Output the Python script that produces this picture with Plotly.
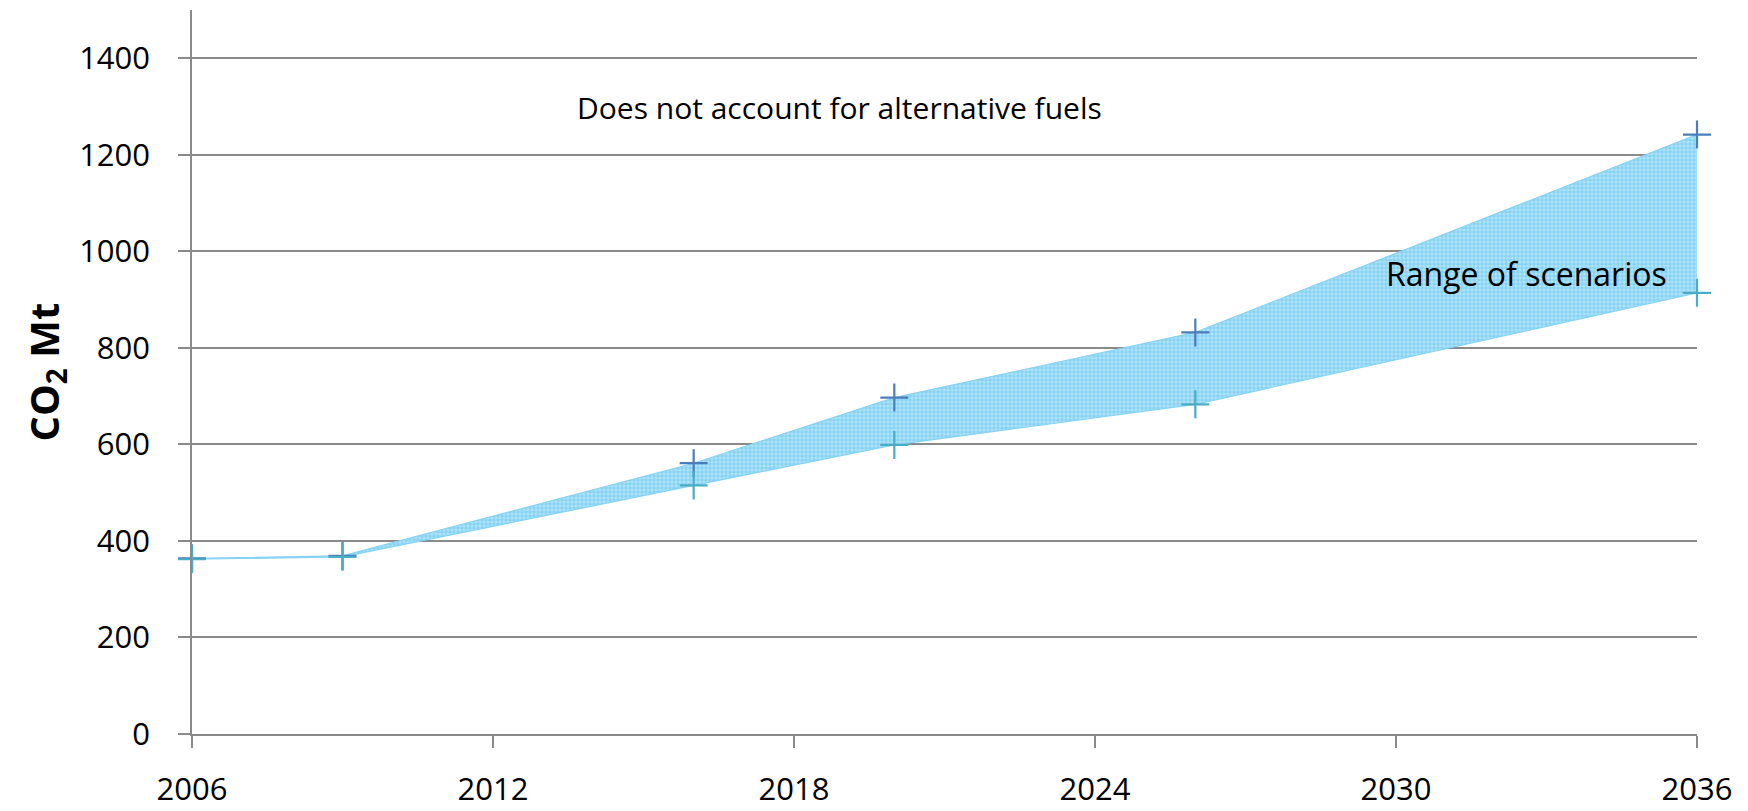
import plotly.graph_objects as go

years = [2006, 2009, 2016, 2020, 2026, 2036]
high = [364, 369, 561, 697, 832, 1242]
low = [362, 367, 515, 599, 683, 914]

x_ticks = [2006, 2012, 2018, 2024, 2030, 2036]
y_ticks = [0, 200, 400, 600, 800, 1000, 1200, 1400]

title_text = "Does not account for alternative fuels"
range_text = "Range of scenarios"
y_title = "CO<sub>2</sub> Mt"

GRID = "#8a8a8a"
FONT = "Open Sans"
FILL_EDGE = "#86d2f3"

fig = go.Figure()

fig.add_trace(go.Scatter(x=years, y=low, mode="lines", line=dict(width=1.2, color=FILL_EDGE),
                         showlegend=False, hoverinfo="skip"))
fig.add_trace(go.Scatter(x=years, y=high, mode="lines", line=dict(width=1.2, color=FILL_EDGE),
                         fill="tonexty", fillcolor="rgba(120,205,242,1)",
                         fillpattern=dict(shape="+", fgcolor="#2fb3ea", bgcolor="#b0e2f7",
                                          size=4, solidity=0.35),
                         showlegend=False, hoverinfo="skip"))
fig.add_trace(go.Scatter(x=years, y=high, mode="markers",
                         marker=dict(symbol="cross-thin", size=20,
                                     line=dict(width=2.2, color="#4a7ebb")),
                         cliponaxis=False, showlegend=False))
fig.add_trace(go.Scatter(x=years, y=low, mode="markers",
                         marker=dict(symbol="cross-thin", size=20,
                                     line=dict(width=2.2, color="#4bacc6")),
                         cliponaxis=False, showlegend=False))

fig.add_annotation(x=2018.9, y=1299, xref="x", yref="y", text=title_text,
                   showarrow=False, font=dict(family=FONT, size=30, color="black"))
fig.add_annotation(x=2032.6, y=955, xref="x", yref="y", text=range_text,
                   showarrow=False, font=dict(family=FONT, size=32, color="black"))
fig.add_annotation(x=-0.098, y=0.5, xref="paper", yref="paper", text=y_title,
                   textangle=-90, showarrow=False, xanchor="center", yanchor="middle",
                   font=dict(family=FONT, size=40, color="black", weight="bold"))

# page body has an 8px margin, so the figure is drawn 8px smaller and offset
fig.update_layout(
    width=1740, height=803,
    margin=dict(l=184, r=51, t=2, b=77),
    paper_bgcolor="white", plot_bgcolor="white",
    font=dict(family=FONT, size=31, color="black"),
    showlegend=False,
)
fig.update_xaxes(range=[2006, 2036], tickvals=x_ticks, ticktext=[str(v) for v in x_ticks],
                 automargin=False,
                 showgrid=False, zeroline=False, showline=True, linecolor=GRID, linewidth=1.5,
                 ticks="outside", ticklen=12, tickwidth=1.5, tickcolor=GRID,
                 ticklabelstandoff=15, tickfont=dict(family=FONT, size=31))
fig.update_yaxes(range=[0, 1500], tickvals=y_ticks, ticktext=[str(v) for v in y_ticks],
                 automargin=False,
                 showgrid=True, gridcolor=GRID, gridwidth=1.5, zeroline=False,
                 showline=True, linecolor=GRID, linewidth=1.5,
                 ticks="outside", ticklen=12, tickwidth=1.5, tickcolor=GRID,
                 ticklabelstandoff=22, tickfont=dict(family=FONT, size=31))

fig.write_html("out.html")
